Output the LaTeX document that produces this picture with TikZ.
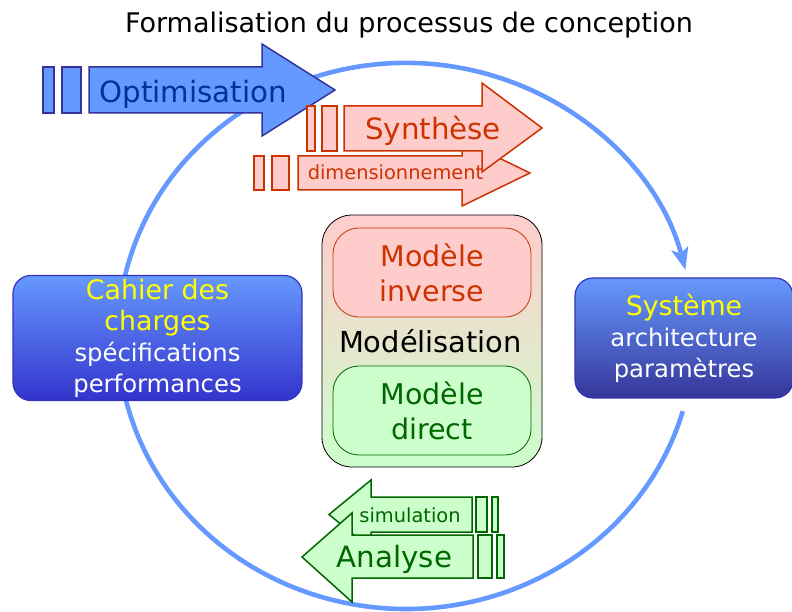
\documentclass[tikz,border=0pt]{standalone}
\usepackage{fontspec}
\setmainfont{DejaVu Sans}
\usepackage{tikz}
\usetikzlibrary{arrows.meta}
\definecolor{ringblue}{HTML}{6699FF}
\definecolor{boxleft}{HTML}{3333CC}
\definecolor{boxright}{HTML}{353599}
\definecolor{boxedge}{HTML}{3333BB}
\definecolor{optedge}{HTML}{333399}
\definecolor{optink}{HTML}{003399}
\definecolor{synred}{HTML}{CC3300}
\definecolor{synfill}{HTML}{FFCCCC}
\definecolor{anagreen}{HTML}{006600}
\definecolor{anafill}{HTML}{CCFFCC}
\definecolor{specyellow}{HTML}{FFFF00}
\newcommand{\txtsize}[2]{\fontsize{#1}{#2}\selectfont}

\begin{document}
\begin{tikzpicture}[x=1pt, y=-1pt,
		ring/.style={ringblue, line width=4.6pt, -{Stealth[length=22pt, width=17pt, inset=5pt]}},
		specbox/.style={draw=boxedge, line width=1.2pt, rounded corners=18pt, top color=ringblue, align=center, text=white, minimum height=120pt, font=\txtsize{24.3}{31}},
		modelbox/.style={draw=black, line width=0.8pt, rounded corners=30pt, top color=synfill, bottom color=anafill, minimum width=220pt, minimum height=252pt},
		innerbox/.style={line width=0.8pt, rounded corners=26pt, minimum width=198pt, minimum height=89pt, align=center, font=\txtsize{28.5}{35}},
		optshape/.style={draw=optedge, fill=ringblue, line width=1.5pt},
		synshape/.style={draw=synred, fill=synfill, line width=1.5pt},
		anashape/.style={draw=anagreen, fill=anafill, line width=1.5pt},
		bigword/.style={anchor=base, font=\txtsize{29.3}{35}},
		smallword/.style={anchor=base, font=\txtsize{19.4}{24}}]
	\useasboundingbox (0,0) rectangle (792,612);
	\node[anchor=base, font=\txtsize{27}{32}] (title) at (409,33) {Formalisation du processus de conception};
	\draw[ring] (682.8,411.2) arc[start angle=16, end angle=346, x radius=288, y radius=273];
	\node[specbox, bottom color=boxleft, minimum width=289pt] (cahier) at (157.5,338) {\textcolor{specyellow}{\txtsize{26.8}{31}Cahier des}\\\textcolor{specyellow}{\txtsize{26.8}{31}charges}\\spécifications\\performances};
	\node[specbox, bottom color=boxright, minimum width=218pt] (systeme) at (684,338) {\textcolor{specyellow}{\txtsize{26.8}{31}Système}\\architecture\\paramètres};
	\node[modelbox] (model) at (432,341) {};
	\node[innerbox, draw=synred, fill=synfill, text=synred] (inverse) at (432,272.5) {Modèle\\inverse};
	\node[innerbox, draw=anagreen, fill=anafill, text=anagreen] (direct) at (432,410.5) {Modèle\\direct};
	\node[anchor=base, font=\txtsize{28.9}{35}] (modelisation) at (430.5,352) {Modélisation};
	\draw[optshape] (89,67) -- (262,67) -- (262,44) -- (335,90) -- (262,136) -- (262,113) -- (89,113) -- cycle;
	\draw[optshape] (43,67) rectangle (54,113);
	\draw[optshape] (62,67) rectangle (81,113);
	\node[bigword, text=optink] (optim) at (193,103) {Optimisation};
	\draw[synshape] (298,156) -- (462,156) -- (462,140) -- (530,173) -- (462,206) -- (462,190) -- (298,190) -- cycle;
	\draw[synshape] (254,156) rectangle (264,190);
	\draw[synshape] (272,156) rectangle (289,190);
	\draw[synshape] (344,106) -- (482,106) -- (482,83) -- (542,128) -- (482,172) -- (482,151) -- (344,151) -- cycle;
	\draw[synshape] (307,106) rectangle (315,151);
	\draw[synshape] (322,106) rectangle (337,151);
	\node[bigword, text=synred] (synthese) at (433,140) {Synthèse};
	\node[smallword, text=synred] (dimension) at (395.5,180) {dimensionnement};
	\draw[anashape] (472,497) -- (371,497) -- (371,480) -- (329,514.5) -- (371,549) -- (371,532) -- (472,532) -- cycle;
	\draw[anashape] (476,497) rectangle (487,532);
	\draw[anashape] (492,497) rectangle (498,532);
	\draw[anashape] (473,535) -- (352,535) -- (352,513) -- (302,557) -- (352,602) -- (352,578) -- (473,578) -- cycle;
	\draw[anashape] (478,535) rectangle (492,578);
	\draw[anashape] (497,535) rectangle (504,578);
	\node[smallword, text=anagreen] (simulation) at (410,522) {simulation};
	\node[bigword, text=anagreen] (analyse) at (394.5,567) {Analyse};
\end{tikzpicture}
\end{document}
